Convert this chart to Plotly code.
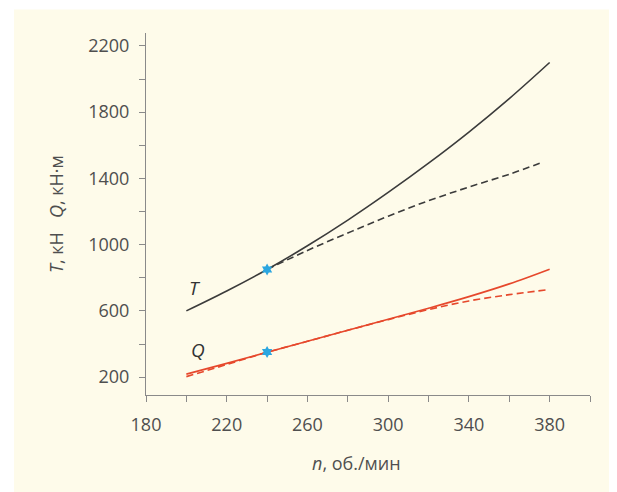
import plotly.graph_objects as go

# ---- data ----
n_T_solid = [200, 220, 240, 260, 280, 300, 320, 340, 360, 380]
T_solid = [600, 720, 850, 993, 1148, 1315, 1492, 1680, 1882, 2100]

n_T_dash = [240, 260, 280, 300, 320, 340, 360, 377]
T_dash = [850, 965, 1070, 1172, 1265, 1348, 1425, 1500]

n_Q_solid = [200, 220, 240, 260, 280, 300, 320, 340, 360, 380]
Q_solid = [218, 283, 350, 416, 483, 549, 616, 686, 763, 852]

n_Q_dash = [200, 220, 240, 260, 280, 300, 320, 340, 360, 378]
Q_dash = [203, 276, 350, 416, 483, 547, 608, 660, 698, 726]

star_n = [240, 240]
star_v = [850, 352]

x_ticks = [180, 220, 260, 300, 340, 380]
y_ticks = [200, 600, 1000, 1400, 1800, 2200]

BLACK = "#3b3b3b"
RED = "#e6482c"
BLUE = "#2ba6e0"
CREAM = "#fefbea"
AX = "#8a8a8a"
TXT = "#4f4f4f"
FONT = "Open Sans"

fig = go.Figure()
fig.add_trace(go.Scatter(x=n_T_solid, y=T_solid, mode="lines",
                         line=dict(color=BLACK, width=1.6, shape="spline")))
fig.add_trace(go.Scatter(x=n_T_dash, y=T_dash, mode="lines",
                         line=dict(color=BLACK, width=1.6, dash="7px,4px", shape="spline")))
fig.add_trace(go.Scatter(x=n_Q_solid, y=Q_solid, mode="lines",
                         line=dict(color=RED, width=1.6, shape="spline")))
fig.add_trace(go.Scatter(x=n_Q_dash, y=Q_dash, mode="lines",
                         line=dict(color=RED, width=1.6, dash="7px,4px", shape="spline")))
fig.add_trace(go.Scatter(x=star_n, y=star_v, mode="markers",
                         marker=dict(symbol="hexagram", size=9, color=BLUE,
                                     line=dict(width=0))))

# the page body has an 8px margin; the figure is sized to fill the rest
OFF = 8
W, H = 617 - OFF, 492 - OFF
L, T = 146 - OFF, 33 - OFF
R = W - (590 - OFF)
B = H - (395 - OFF)
pw, ph = W - L - R, H - T - B

def px_x(p):
    return (p - OFF - L) / pw

def px_y(p):
    return (H - B - (p - OFF)) / ph

fig.update_layout(
    width=W, height=H,
    margin=dict(l=L, r=R, t=T, b=B, pad=0),
    paper_bgcolor="white",
    plot_bgcolor="rgba(0,0,0,0)",
    showlegend=False,
    font=dict(family=FONT, size=18, color=TXT),
    shapes=[dict(type="rect", xref="paper", yref="paper", layer="below",
                 x0=px_x(14), x1=px_x(617 + 5), y0=px_y(492 + 5), y1=px_y(9.5),
                 fillcolor=CREAM, line=dict(width=0))],
    annotations=[
        dict(text="<i>T</i>", x=204.5, y=740, xref="x", yref="y", showarrow=False,
             font=dict(family=FONT, size=19, color="#333333")),
        dict(text="<i>Q</i>", x=206, y=362, xref="x", yref="y", showarrow=False,
             font=dict(family=FONT, size=19, color="#333333")),
        dict(text="<i>n</i>, об./мин", x=px_x(356), y=px_y(463), xref="paper", yref="paper",
             showarrow=False, xanchor="center", yanchor="middle",
             font=dict(family=FONT, size=18, color=TXT)),
        dict(text="<i>T</i>, кН&nbsp;&nbsp;&nbsp;<i>Q</i>, кН·м", x=px_x(56), y=px_y(214),
             xref="paper", yref="paper", showarrow=False, textangle=-90,
             xanchor="center", yanchor="middle",
             font=dict(family=FONT, size=18, color=TXT)),
    ],
)

fig.update_xaxes(range=[180, 400], showgrid=False, zeroline=False,
                 showline=True, linecolor=AX, linewidth=1,
                 tickmode="array", tickvals=x_ticks, ticktext=[str(v) for v in x_ticks],
                 ticks="outside", ticklen=6, tickcolor=AX, tickwidth=1,
                 ticklabelstandoff=7,
                 minor=dict(dtick=20, tick0=180, ticks="outside", ticklen=6,
                            tickcolor=AX, tickwidth=1, showgrid=False),
                 tickfont=dict(family=FONT, size=18, color=TXT))
fig.update_yaxes(range=[92, 2278], showgrid=False, zeroline=False,
                 showline=True, linecolor=AX, linewidth=1,
                 tickmode="array", tickvals=y_ticks, ticktext=[str(v) for v in y_ticks],
                 ticks="outside", ticklen=6, tickcolor=AX, tickwidth=1,
                 ticklabelstandoff=6,
                 minor=dict(dtick=200, tick0=0, ticks="outside", ticklen=6,
                            tickcolor=AX, tickwidth=1, showgrid=False),
                 tickfont=dict(family=FONT, size=18, color=TXT))

fig.write_html("out.html")
